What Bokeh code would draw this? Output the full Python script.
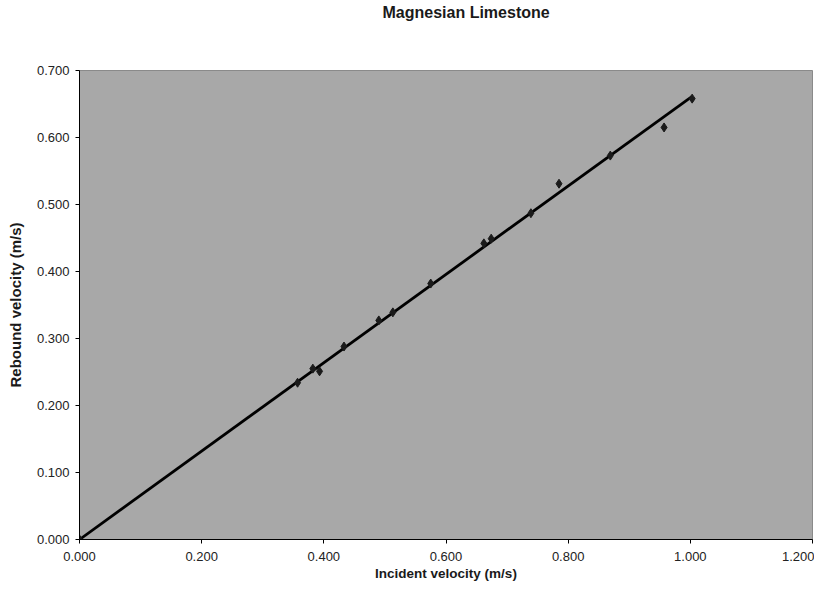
from bokeh.plotting import figure
from bokeh.models import NumeralTickFormatter, FixedTicker, Range1d, ColumnDataSource
from bokeh.embed import file_html
from bokeh.resources import INLINE
import numpy as np

title_text = "Magnesian Limestone"
x_label = "Incident velocity (m/s)"
y_label = "Rebound velocity (m/s)"

incident = [0.000, 0.357, 0.382, 0.393, 0.433, 0.490, 0.513, 0.575,
            0.662, 0.674, 0.739, 0.785, 0.869, 0.957, 1.003]
rebound = [0.000, 0.234, 0.255, 0.251, 0.288, 0.327, 0.339, 0.382,
           0.442, 0.449, 0.487, 0.531, 0.573, 0.615, 0.658]

x_ticks = [0.0, 0.2, 0.4, 0.6, 0.8, 1.0, 1.2]
y_ticks = [0.0, 0.1, 0.2, 0.3, 0.4, 0.5, 0.6, 0.7]

xa = np.array(incident)
ya = np.array(rebound)
slope = float((xa * ya).sum() / (xa * xa).sum())
trend_x = [0.0, float(xa.max())]
trend_y = [slope * v for v in trend_x]

p = figure(width=814, height=584, output_backend="svg", toolbar_location=None,
           x_range=Range1d(0, 1.2), y_range=Range1d(0, 0.7),
           min_border_left=79, min_border_right=2, min_border_top=70, min_border_bottom=45)

# trailing blank lines keep the title high above the plot area, as in the original
p.title.text = title_text + "\n\n"
p.title.align = "left"
p.title.offset = 303
p.title.vertical_align = "top"
p.title.standoff = 3
p.title.text_line_height = 1.35
p.title.text_font = "Liberation Sans"
p.title.text_font_size = "16px"
p.title.text_font_style = "bold"
p.title.text_color = "#1a1a1a"

p.background_fill_color = "#a8a8a8"
p.border_fill_color = "white"
p.outline_line_color = "#8a8a8a"
p.grid.visible = False

for ax, ticks in ((p.xaxis, x_ticks), (p.yaxis, y_ticks)):
    ax.ticker = FixedTicker(ticks=ticks)
    ax.formatter = NumeralTickFormatter(format="0.000")
    ax.major_label_text_font = "Liberation Sans"
    ax.major_label_text_font_size = "13px"
    ax.major_label_text_color = "#222222"
    ax.axis_label_text_font = "Liberation Sans"
    ax.axis_label_text_font_style = "bold"
    ax.axis_label_text_color = "#1a1a1a"
    ax.axis_line_color = "black"
    ax.major_tick_line_color = "black"
    ax.major_tick_out = 4
    ax.major_tick_in = 0
    ax.minor_tick_line_color = None

p.xaxis.axis_label_text_font_size = "13.5px"
p.yaxis.axis_label_text_font_size = "15px"
p.xaxis.axis_label = x_label
p.yaxis.axis_label = y_label
p.xaxis.major_label_standoff = 8
p.yaxis.major_label_standoff = 6
p.xaxis.axis_label_standoff = 2
p.yaxis.axis_label_standoff = 10

p.line(trend_x, trend_y, line_color="black", line_width=2.8)
src = ColumnDataSource(dict(x=incident, y=rebound))
p.scatter("x", "y", source=src, marker="diamond", size=9, fill_color="#1a1a1a",
          line_color="#1a1a1a")

open("out.html", "w").write(file_html(p, INLINE))
